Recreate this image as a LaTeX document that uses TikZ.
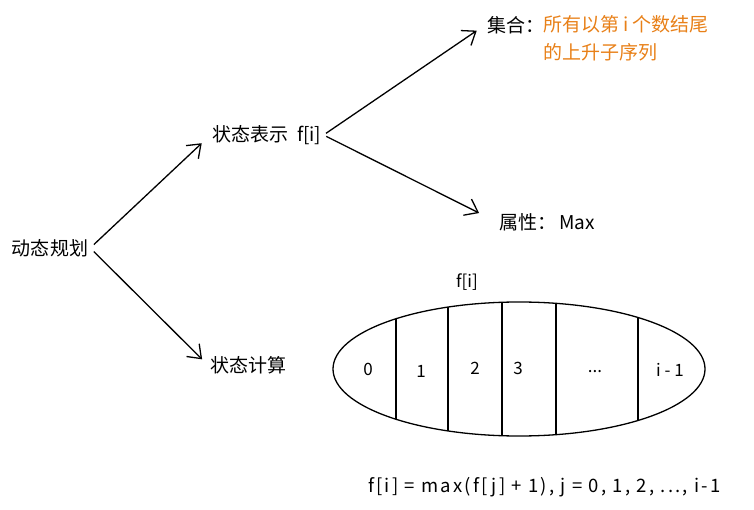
\documentclass[tikz,border=0pt]{standalone}
\usepackage{fontspec}
\usepackage{xcolor}
\usepackage{tikz}
\usetikzlibrary{positioning, arrows.meta, shapes.geometric}

\newfontfamily\cjk{Noto Sans CJK SC}
\newfontfamily\cjkwide[LetterSpace=12]{Noto Sans CJK SC}
\definecolor{setorange}{RGB}{232,128,24}

\begin{document}
\begin{tikzpicture}[
    x=1pt, y=-1pt,
    % Define styles for the nodes and text
    label/.style={font=\cjk\fontsize{19}{25}\selectfont, inner sep=2pt},
    hint/.style={font=\cjk\fontsize{19}{28}\selectfont, text=setorange, align=left, inner sep=0pt},
    cell/.style={font=\cjk\fontsize{17}{20}\selectfont, inner sep=0pt},
    formula/.style={font=\cjkwide\fontsize{18.5}{22}\selectfont, inner sep=0pt},
    arrow/.style={-{Straight Barb[length=12pt, width=18pt]}, line width=1.3pt},
    ovalbox/.style={draw, ellipse, line width=1.3pt, minimum width=372pt, minimum height=134pt}
]
    \useasboundingbox (0,0) rectangle (754,510);

    % Define the nodes
    \node[label] (dp) at (50,248) {动态规划};

    \node[label] (repr) at (267,135) {状态表示\;\,f[i]};

    \node[label] (calc) at (248,365) {状态计算};

    \node[label, anchor=west] (set) at (485,25) {集合：};
    \node[hint, anchor=north west] (setdesc) at (543,15) {所有以第 i 个数结尾\\的上升子序列};

    \node[label, anchor=west] (attr) at (497,222) {属性：\,Max};

    % the array as an oval cut into cells
    \node[ovalbox] (arr) at (519,369) {};
    \node[cell] (arrname) at (467,282) {f[i]};
    \begin{scope}
        \clip (arr.center) ellipse (186 and 67);
        \draw[line width=1.3pt] (396,300) -- (396,440);
        \draw[line width=1.3pt] (448,300) -- (448,440);
        \draw[line width=1.6pt] (502,300) -- (502,440);
        \draw[line width=1.6pt] (556,300) -- (556,440);
        \draw[line width=1.3pt] (638,300) -- (638,440);
    \end{scope}

    \node[cell] (c0) at (368,369) {0};
    \node[cell] (c1) at (421,371) {1};
    \node[cell] (c2) at (475,368) {2};
    \node[cell] (c3) at (518,368) {3};
    \node[cell] (cdots) at (595,372) {...};
    \node[cell] (clast) at (670,370) {i - 1};

    \node[formula, anchor=west] (rule) at (368,487) {f[i] = max(f[j] + 1), j = 0, 1, 2, ..., i-1};

    % Draw the arrows
    \draw[arrow, shorten <=5pt, shorten >=12pt] (dp.east) -- (repr.west);

    \draw[arrow, shorten <=5pt, shorten >=8pt] (dp.east) -- (calc.west);

    \draw[arrow, shorten <=3pt, shorten >=10pt] (repr.east) -- (set.west);

    \draw[arrow, shorten <=3pt, shorten >=20pt] (repr.east) -- (attr.west);
\end{tikzpicture}
\end{document}
